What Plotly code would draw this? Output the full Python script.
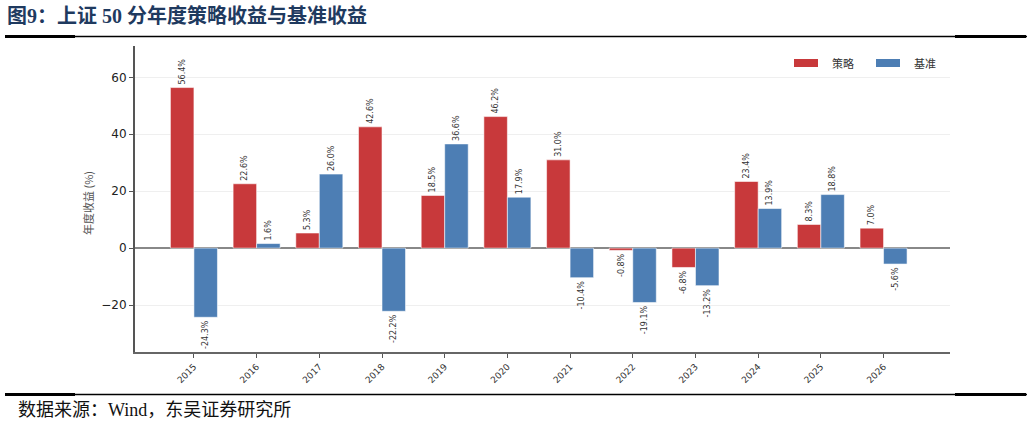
import plotly.graph_objects as go

years = ["2015", "2016", "2017", "2018", "2019", "2020", "2021", "2022", "2023", "2024", "2025", "2026"]
strategy = [56.4, 22.6, 5.3, 42.6, 18.5, 46.2, 31.0, -0.8, -6.8, 23.4, 8.3, 7.0]
benchmark = [-24.3, 1.6, 26.0, -22.2, 36.6, 17.9, -10.4, -19.1, -13.2, 13.9, 18.8, -5.6]
series_names = ["策略", "基准"]
y_ticks = [-20, 0, 20, 40, 60]

RED = "#C8393B"
BLUE = "#4D7EB4"

W, H = 1032, 425
L, R, T, B = 135, 950, 46, 352

def px_x(x):
    return (x - L) / (R - L)

def px_y(y):
    return (B - y) / (B - T)

def fmt(v):
    return f"{v:.1f}%"

fig = go.Figure()
label_font = dict(family="DejaVu Sans", size=8, color="#333333")
for name, vals, col in [(series_names[0], strategy, RED), (series_names[1], benchmark, BLUE)]:
    fig.add_trace(go.Bar(
        x=list(range(len(years))), y=vals, name=name,
        marker=dict(color=col, line=dict(color="rgba(255,255,255,0.55)", width=1)),
        text=[fmt(v) for v in vals], textposition="outside", textangle=-90,
        textfont=label_font, cliponaxis=False, constraintext="none",
        showlegend=False,
    ))

fig.update_layout(
    width=W, height=H,
    margin=dict(l=L, r=W - R, t=T, b=H - B, pad=0),
    paper_bgcolor="white", plot_bgcolor="white",
    barmode="group", bargap=0.25, bargroupgap=0,
    font=dict(family="DejaVu Sans", color="#222222"),
    xaxis=dict(
        range=[-0.94, 12.06], tickmode="array", tickvals=list(range(len(years))),
        ticktext=years, tickangle=-45,
        tickfont=dict(family="DejaVu Sans", size=9, color="#333333"),
        showline=True, linecolor="#666666", linewidth=2, ticks="outside",
        ticklen=4, tickcolor="#555555", showgrid=False, zeroline=False,
    ),
    yaxis=dict(
        range=[-36.5, 71], tickvals=y_ticks,
        tickfont=dict(family="DejaVu Sans", size=12, color="#222222"),
        showline=True, linecolor="#555555", linewidth=2, ticks="outside",
        ticklen=4, tickcolor="#555555",
        showgrid=True, gridcolor="#EFEFEF", gridwidth=1,
        zeroline=True, zerolinecolor="#888888", zerolinewidth=1.5,
    ),
)

annotations = [
    dict(text="<b>图9：上证 50 分年度策略收益与基准收益</b>", x=px_x(5), y=px_y(16),
         xref="paper", yref="paper", xanchor="left", yanchor="middle", showarrow=False,
         font=dict(family="Liberation Serif, Noto Sans CJK SC", size=20, color="#1F3A5F")),
    dict(text="数据来源：Wind，东吴证券研究所", x=px_x(16), y=px_y(410),
         xref="paper", yref="paper", xanchor="left", yanchor="middle", showarrow=False,
         font=dict(family="Liberation Serif, Noto Sans CJK SC", size=18, color="#111111")),
    dict(text="年度收益 (%)", x=px_x(88), y=px_y(203), xref="paper", yref="paper",
         xanchor="center", yanchor="middle", textangle=-90, showarrow=False,
         font=dict(family="Noto Sans CJK SC", size=11, color="#555555")),
    dict(text=series_names[0], x=px_x(830), y=px_y(63), xref="paper", yref="paper",
         xanchor="left", yanchor="middle", showarrow=False,
         font=dict(family="Noto Sans CJK SC", size=11, color="#333333")),
    dict(text=series_names[1], x=px_x(912), y=px_y(63), xref="paper", yref="paper",
         xanchor="left", yanchor="middle", showarrow=False,
         font=dict(family="Noto Sans CJK SC", size=11, color="#333333")),
]

def line(x0, x1, y, w):
    return dict(type="line", xref="paper", yref="paper",
                x0=px_x(x0), x1=px_x(x1), y0=px_y(y), y1=px_y(y),
                line=dict(color="black", width=w))

shapes = [
    line(5, 1027, 36.5, 1.5),
    line(5, 75, 36.5, 3),
    line(955, 1026, 36.5, 3),
    line(5, 1027, 394.5, 1.5),
    line(5, 75, 394.5, 3),
    line(955, 1026, 394.5, 3),
    dict(type="rect", xref="paper", yref="paper", x0=px_x(794), x1=px_x(818),
         y0=px_y(67), y1=px_y(59), fillcolor=RED, line=dict(width=0)),
    dict(type="rect", xref="paper", yref="paper", x0=px_x(876), x1=px_x(900),
         y0=px_y(67), y1=px_y(59), fillcolor=BLUE, line=dict(width=0)),
]
fig.update_layout(annotations=annotations, shapes=shapes)

fig.write_html("out.html")
